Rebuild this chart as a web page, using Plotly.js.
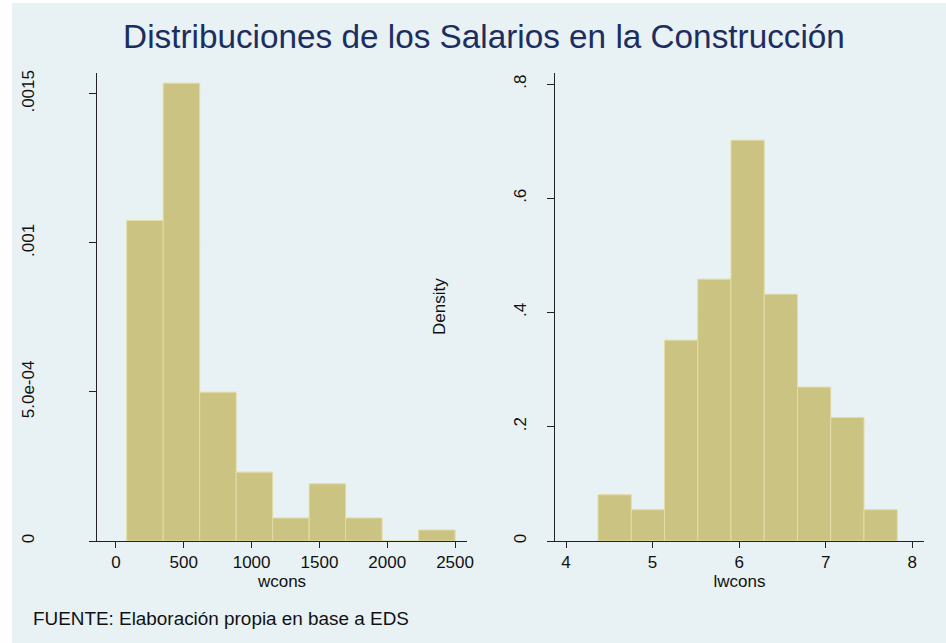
<!DOCTYPE html>
<html>
<head>
<meta charset="utf-8">
<script src="https://cdn.plot.ly/plotly-3.0.1.min.js"></script>
<style>html,body{margin:0;padding:0;background:#ffffff;}#chart{width:946px;height:643px;}</style>
</head>
<body>
<div id="chart"></div>
<script>
// ---- data ----
const chartTitle = "Distribuciones de los Salarios en la Construcción";
const sourceNote = "FUENTE: Elaboración propia en base a EDS";

const wconsBinStart = 79;
const wconsBinWidth = 269;
const wconsDensity = [0.001075, 0.001536, 0.000499, 0.000231, 0.0000772, 0.000192, 0.0000772, 0, 0.0000369];
const wconsXTicks = [0, 500, 1000, 1500, 2000, 2500];
const wconsYTicks = [0, 0.0005, 0.001, 0.0015];
const wconsYLabels = ["0", "5.0e-04", ".001", ".0015"];

const lwconsBinStart = 4.37;
const lwconsBinWidth = 0.384;
const lwconsDensity = [0.081, 0.0548, 0.3517, 0.4584, 0.7017, 0.4322, 0.2695, 0.2163, 0.0548];
const lwconsXTicks = [4, 5, 6, 7, 8];
const lwconsYTicks = [0, 0.2, 0.4, 0.6, 0.8];
const lwconsYLabels = ["0", ".2", ".4", ".6", ".8"];

// ---- styles ----
const bgColor = "#e8f1f3";
const barFill = "#cbc382";
const barEdge = "#e2dca6";
const axisColor = "#222222";
const gridColor = "#e6eff1";
const fontFam = "Liberation Sans, Arial, Helvetica, sans-serif";

function centers(start, width, n) {
  return Array.from({length: n}, (_, i) => start + (i + 0.5) * width);
}

const traces = [
  {
    type: "bar",
    x: centers(wconsBinStart, wconsBinWidth, wconsDensity.length),
    y: wconsDensity,
    width: wconsBinWidth,
    marker: {color: barFill, line: {color: barEdge, width: 1}},
    xaxis: "x", yaxis: "y",
    hoverinfo: "x+y", showlegend: false
  },
  {
    type: "bar",
    x: centers(lwconsBinStart, lwconsBinWidth, lwconsDensity.length),
    y: lwconsDensity,
    width: lwconsBinWidth,
    marker: {color: barFill, line: {color: barEdge, width: 1}},
    xaxis: "x2", yaxis: "y2",
    hoverinfo: "x+y", showlegend: false
  }
];

const W = 946, H = 643;
function px(x) { return x / W; }
function py(y) { return 1 - y / H; }

const tickFont = {family: fontFam, size: 17, color: "#111111"};

const commonX = {
  showline: true, linecolor: axisColor, linewidth: 1,
  ticks: "outside", ticklen: 6, tickcolor: axisColor,
  showgrid: false, zeroline: false, automargin: false,
  tickfont: tickFont
};
const commonY = {
  showline: true, linecolor: axisColor, linewidth: 1,
  ticks: "outside", ticklen: 7, tickcolor: axisColor,
  showgrid: true, gridcolor: gridColor, gridwidth: 1,
  zeroline: false, automargin: false,
  tickangle: -90, tickfont: tickFont
};

const layout = {
  width: W, height: H,
  margin: {l: 0, r: 0, t: 0, b: 0},
  paper_bgcolor: "#ffffff",
  plot_bgcolor: "#ffffff",
  barmode: "overlay",
  bargap: 0,
  font: {family: fontFam},
  title: {
    text: chartTitle,
    x: px(484), xanchor: "center", xref: "paper",
    y: py(36), yanchor: "middle", yref: "paper",
    font: {family: fontFam, size: 33.3, color: "#1c2e60"}
  },
  xaxis: Object.assign({}, commonX, {
    domain: [px(97), px(467)],
    range: [-140, 2588],
    tickvals: wconsXTicks,
    title: {text: "wcons", font: {family: fontFam, size: 17, color: "#111111"}, standoff: 0},
    anchor: "y"
  }),
  yaxis: Object.assign({}, commonY, {
    domain: [py(541), py(73)],
    range: [0, 0.00157],
    tickvals: wconsYTicks,
    ticktext: wconsYLabels,
    ticklabelstandoff: 48,
    anchor: "x"
  }),
  xaxis2: Object.assign({}, commonX, {
    domain: [px(555), px(924)],
    range: [3.873, 8.135],
    tickvals: lwconsXTicks,
    title: {text: "lwcons", font: {family: fontFam, size: 17, color: "#111111"}, standoff: 0},
    anchor: "y2"
  }),
  yaxis2: Object.assign({}, commonY, {
    domain: [py(541), py(73)],
    range: [0, 0.8194],
    tickvals: lwconsYTicks,
    ticktext: lwconsYLabels,
    ticklabelstandoff: 14,
    anchor: "x2"
  }),
  shapes: [
    {type: "rect", xref: "paper", yref: "paper", layer: "below",
     x0: px(12), x1: 1, y0: 0, y1: py(3),
     fillcolor: bgColor, line: {width: 0}}
  ],
  annotations: [
    {text: "Density", xref: "paper", yref: "paper",
     x: px(439), y: py(307), xanchor: "center", yanchor: "middle",
     textangle: -90, showarrow: false,
     font: {family: fontFam, size: 17, color: "#111111"}},
    {text: sourceNote, xref: "paper", yref: "paper",
     x: px(31), y: py(618), xanchor: "left", yanchor: "middle",
     showarrow: false,
     font: {family: fontFam, size: 18.9, color: "#111111"}}
  ]
};

Plotly.newPlot("chart", traces, layout, {displayModeBar: false, staticPlot: true});
</script>
</body>
</html>
